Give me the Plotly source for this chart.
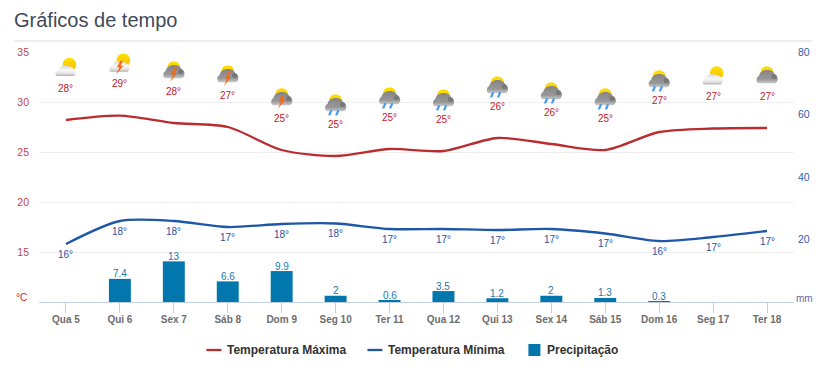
import base64
import plotly.graph_objects as go

days = ["Qua 5", "Qui 6", "Sex 7", "Sáb 8", "Dom 9", "Seg 10", "Ter 11", "Qua 12",
        "Qui 13", "Sex 14", "Sáb 15", "Dom 16", "Seg 17", "Ter 18"]
temp_max = [28.2, 28.63, 27.9, 27.5, 25.2, 24.6, 25.3, 25.1, 26.4, 25.8, 25.2, 27.0, 27.35, 27.4]
temp_min = [15.8, 18.1, 18.1, 17.5, 17.8, 17.85, 17.3, 17.3, 17.2, 17.3, 16.85, 16.1, 16.5, 17.1]
precip = [0, 7.4, 13, 6.6, 9.9, 2, 0.6, 3.5, 1.2, 2, 1.3, 0.3, 0, 0]
precip_labels = ["", "7.4", "13", "6.6", "9.9", "2", "0.6", "3.5", "1.2", "2", "1.3", "0.3", "", ""]
max_labels = ["28°", "29°", "28°", "27°", "25°", "25°", "25°", "25°", "26°", "26°", "25°", "27°", "27°", "27°"]
min_labels = ["16°", "18°", "18°", "17°", "18°", "18°", "17°", "17°", "17°", "17°", "17°", "16°", "17°", "17°"]
icons = ["sun", "sun_bolt", "bolt", "bolt", "bolt", "rain", "rain", "rain", "rain", "rain", "rain", "rain", "sun", "cloud"]
left_ticks = [15, 20, 25, 30, 35]
right_ticks = [20, 40, 60, 80]

FONT = "Liberation Sans, Arial, sans-serif"
RED, BLUE, BAR = "#b92c30", "#1f57a8", "#0277ad"
W, H, L, R, T, B = 840, 374, 38.6, 46.4, 52, 72
PW, PH = W - L - R, H - T - B


def px(x):
    return (x - L) / PW


def py(y):
    return (H - B - y) / PH


def icon_svg(kind):
    defs = ('<defs>'
            '<linearGradient id="w" x1="0" y1="0" x2="0" y2="1"><stop offset="0" stop-color="#d8d8d8"/><stop offset="0.45" stop-color="#f6f6f6"/><stop offset="0.75" stop-color="#e6e6e6"/><stop offset="1" stop-color="#b0b0b0"/></linearGradient>'
            '<linearGradient id="d" x1="0" y1="0" x2="0" y2="1"><stop offset="0" stop-color="#858585"/><stop offset="0.7" stop-color="#989898"/><stop offset="1" stop-color="#cccccc"/></linearGradient>'
            '<linearGradient id="s" x1="0" y1="0" x2="0" y2="1"><stop offset="0" stop-color="#ffe000"/><stop offset="1" stop-color="#f7bd00"/></linearGradient>'
            '</defs>')
    body = ""
    if kind in ("sun", "sun_bolt"):
        body += '<circle cx="15.5" cy="9" r="6.8" fill="url(#s)"/>'
        body += '<path d="M1.5 19 C1 16 3 14.5 5 14 C6 10.5 10 9 13 10.5 C16 10.5 20 12 21 15 C22.5 18 21 20.5 19 20.5 L4 20.5 C2.5 20.5 1.8 20 1.5 19 Z" fill="url(#w)"/>'
    else:
        body += '<circle cx="12" cy="9.2" r="6.5" fill="url(#s)"/>'
        body += '<path d="M2 18.5 C0.8 16 2 13.2 4 12.3 C4.5 8.8 8 6.5 12 6.5 C16 6.5 19 8.5 19.8 11.3 C22.5 12 23.4 15 22.2 17.5 C21.6 19.5 20 19.8 18 19.8 L4.5 19.8 C3.2 19.8 2.4 19.4 2 18.5 Z" fill="url(#d)"/>'
        body += '<circle cx="19" cy="13" r="2.6" fill="#6c6c6c" opacity="0.7"/>'
    if kind in ("bolt", "sun_bolt"):
        body += '<path d="M12.5 9.5 L9 16 L11.5 16 L8 23.5 L15.5 14.5 L12.8 14.5 L15 9.5 Z" fill="#f26a1b"/>'
    if kind == "rain":
        body += '<path d="M7.5 19.5 L5.8 23.5 M14.5 19.5 L12.8 23.5" stroke="#4a9cf0" stroke-width="2.2" stroke-linecap="round"/>'
    svg = f'<svg xmlns="http://www.w3.org/2000/svg" width="24" height="24" viewBox="0 0 24 24">{defs}{body}</svg>'
    return "data:image/svg+xml;base64," + base64.b64encode(svg.encode()).decode()


fig = go.Figure()
fig.add_trace(go.Scatter(x=days, y=temp_max, name="Temperatura Máxima", mode="lines",
                         line=dict(color=RED, width=2.3, shape="spline", smoothing=0.8), hoverinfo="skip"))
fig.add_trace(go.Scatter(x=days, y=temp_min, name="Temperatura Mínima", mode="lines",
                         line=dict(color=BLUE, width=2.3, shape="spline", smoothing=0.8), hoverinfo="skip"))
fig.add_trace(go.Bar(x=days, y=precip, name="Precipitação", yaxis="y2", marker=dict(color=BAR, line_width=0),
                     width=0.407, hoverinfo="skip"))

annotations = []
for d, v, t in zip(days, temp_max, max_labels):
    annotations.append(dict(x=d, y=v, yref="y", text=t, showarrow=False, yshift=32,
                            font=dict(family=FONT, size=10, color="#c1202a")))
for d, v, t in zip(days, temp_min, min_labels):
    annotations.append(dict(x=d, y=v, yref="y", text=t, showarrow=False, yshift=-10,
                            font=dict(family=FONT, size=10, color="#2f4f9f")))
for d, v, t in zip(days, precip, precip_labels):
    if t:
        annotations.append(dict(x=d, y=v, yref="y2", text=t, showarrow=False, yanchor="middle", yshift=5,
                                font=dict(family=FONT, size=10, color="#1a78ad")))
annotations.append(dict(xref="paper", yref="paper", x=px(28.5), y=py(297), xanchor="right", yanchor="middle",
                        text="°C", showarrow=False, font=dict(family=FONT, size=10, color="#c1272d")))
annotations.append(dict(xref="paper", yref="paper", x=px(794), y=py(298), xanchor="left", yanchor="middle",
                        text="mm", showarrow=False, font=dict(family=FONT, size=10, color="#6b6ba8")))

# Legend keys and labels
legend_items = [("Temperatura Máxima", 206, 227, RED), ("Temperatura Mínima", 367, 388, BLUE), ("Precipitação", 528, 547, BAR)]
shapes = [dict(type="line", xref="paper", yref="paper", x0=px(14), x1=px(812), y0=py(41), y1=py(41),
               line=dict(color="#dddddd", width=1))]
for name, key_x, text_x, col in legend_items:
    annotations.append(dict(xref="paper", yref="paper", x=px(text_x), y=py(350), xanchor="left", yanchor="middle",
                            xshift=-2, text=f"<b>{name}</b>", showarrow=False, font=dict(family=FONT, size=12, color="#333333")))
    if col == BAR:
        shapes.append(dict(type="rect", xref="paper", yref="paper", x0=px(key_x), x1=px(key_x + 12), y0=py(356), y1=py(344),
                           fillcolor=col, line_width=0))
    else:
        shapes.append(dict(type="line", xref="paper", yref="paper", x0=px(key_x), x1=px(key_x + 15), y0=py(350), y1=py(350),
                           line=dict(color=col, width=2.3)))

images = [dict(source=icon_svg(k), xref="x", yref="y", x=d, y=v + 5.25, xanchor="center", yanchor="middle",
               sizex=24 / 54, sizey=2.4, sizing="stretch", layer="above")
          for d, v, k in zip(days, temp_max, icons)]

fig.update_layout(
    width=W, height=H, margin=dict(l=L, r=R, t=T, b=B, pad=0),
    paper_bgcolor="white", plot_bgcolor="white", font=dict(family=FONT),
    title=dict(text="Gráficos de tempo", xref="container", yref="container", x=14 / W, xanchor="left",
               y=1 - 20 / H, yanchor="middle", pad=dict(l=0, t=0, b=0, r=0),
               font=dict(family=FONT, size=20, color="#3e4a59")),
    xaxis=dict(type="category", categoryorder="array", categoryarray=days, range=[-0.5, 13.5],
               showgrid=False, showline=True, linecolor="#c0d0e0", linewidth=1,
               ticks="outside", ticklen=10, tickcolor="#c0d0e0", tickwidth=1, ticklabelstandoff=-2,
               tickfont=dict(family=FONT, size=10, color="#6d6d6d", weight="bold"), tickangle=0),
    yaxis=dict(range=[10, 35], tickmode="array", tickvals=left_ticks, ticktext=[str(t) for t in left_ticks],
               showgrid=True, gridcolor="#eeeeee", gridwidth=1, zeroline=False, showline=False,
               ticks="", ticklabelstandoff=9, tickfont=dict(family=FONT, size=10.5, color="#c1474c")),
    yaxis2=dict(range=[0, 80], overlaying="y", side="right", tickmode="array", tickvals=right_ticks,
                ticktext=[str(t) for t in right_ticks], showgrid=False, zeroline=False, showline=False,
                ticks="", ticklabelstandoff=3, tickfont=dict(family=FONT, size=10.5, color="#2f5ea8")),
    showlegend=False,
    annotations=annotations, images=images, shapes=shapes,
)

fig.write_html("out.html", post_script="document.body.style.margin='0';", config={"displayModeBar": False})
